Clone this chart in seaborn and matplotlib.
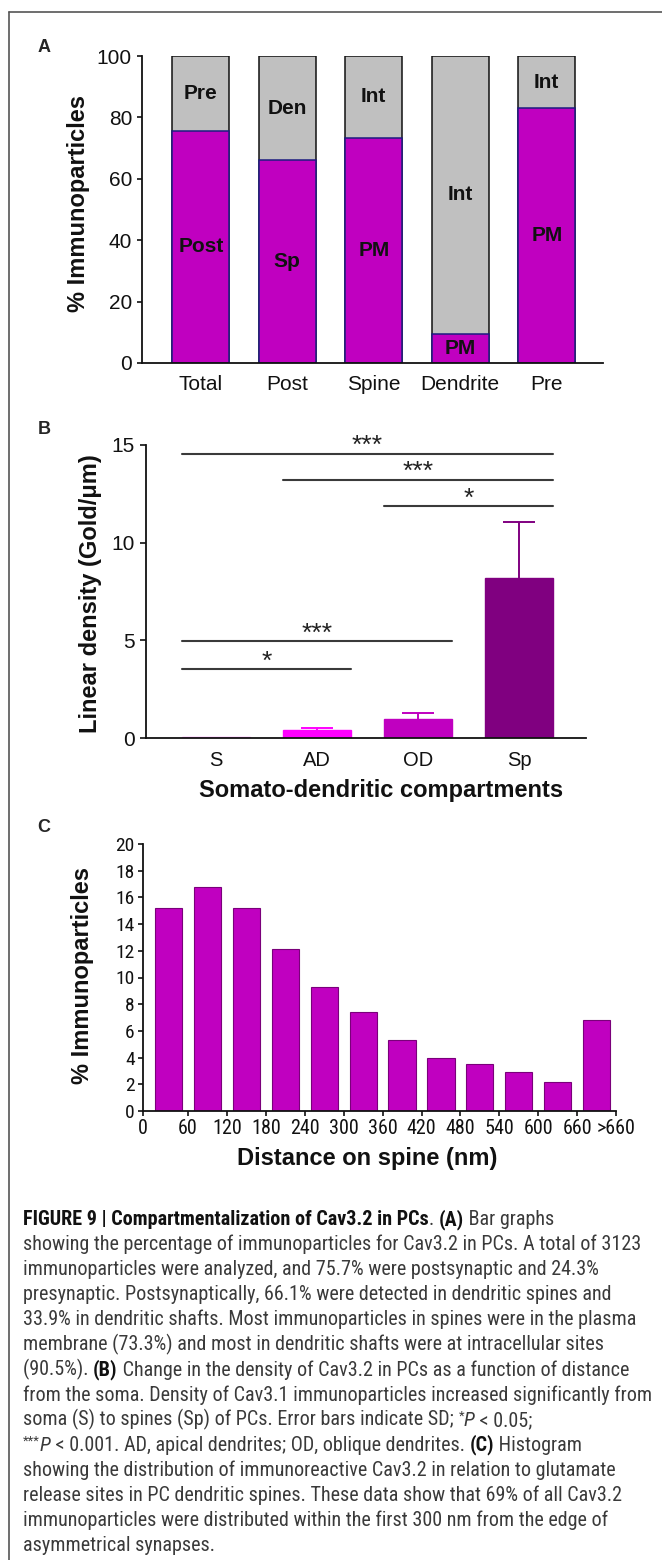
import numpy as np
import pandas as pd
import matplotlib
matplotlib.use('Agg')
import matplotlib.pyplot as plt
import seaborn as sns
from matplotlib import font_manager

# ---- data ----
# A: stacked percentages
a_groups = ['Total', 'Post', 'Spine', 'Dendrite', 'Pre']
a_lower = [75.7, 66.1, 73.3, 9.5, 83.0]
a_upper = [24.3, 33.9, 26.7, 90.5, 17.0]
a_lower_lab = ['Post', 'Sp', 'PM', 'PM', 'PM']
a_upper_lab = ['Pre', 'Den', 'Int', 'Int', 'Int']

# B: linear density, mean and SD
b_groups = ['S', 'AD', 'OD', 'Sp']
b_mean = [0.05, 0.39, 0.99, 8.2]
b_sd = [0.0, 0.12, 0.29, 2.85]
b_colors = ['#FF77FF', '#FF00FF', '#C000C0', '#800080']
b_pairs = [(0, 3, '***'), (1, 3, '***'), (2, 3, '*'), (0, 2, '***'), (0, 1, '*')]

# C: histogram of distance on spine
c_bins = ['0-60', '60-120', '120-180', '180-240', '240-300', '300-360',
          '360-420', '420-480', '480-540', '540-600', '600-660', '>660']
c_vals = [15.2, 16.8, 15.2, 12.1, 9.3, 7.4, 5.3, 4.0, 3.5, 2.9, 2.2, 6.8]
c_ticklabels = ['0', '60', '120', '180', '240', '300', '360', '420',
                '480', '540', '600', '660', '>660']

caption = [
    [('FIGURE 9 | Compartmentalization of Cav3.2 in PCs', 'b'), ('. ', 'r'), ('(A)', 'b'), (' Bar graphs', 'r')],
    [('showing the percentage of immunoparticles for Cav3.2 in PCs. A total of 3123', 'r')],
    [('immunoparticles were analyzed, and 75.7% were postsynaptic and 24.3%', 'r')],
    [('presynaptic. Postsynaptically, 66.1% were detected in dendritic spines and', 'r')],
    [('33.9% in dendritic shafts. Most immunoparticles in spines were in the plasma', 'r')],
    [('membrane (73.3%) and most in dendritic shafts were at intracellular sites', 'r')],
    [('(90.5%). ', 'r'), ('(B)', 'b'), (' Change in the density of Cav3.2 in PCs as a function of distance', 'r')],
    [('from the soma. Density of Cav3.1 immunoparticles increased significantly from', 'r')],
    [('soma (S) to spines (Sp) of PCs. Error bars indicate SD; ', 'r'), ('*', 's'), ('P', 'i'), (' < 0.05;', 'r')],
    [('***', 's'), ('P', 'i'), (' < 0.001. AD, apical dendrites; OD, oblique dendrites. ', 'r'), ('(C)', 'b'), (' Histogram', 'r')],
    [('showing the distribution of immunoreactive Cav3.2 in relation to glutamate', 'r')],
    [('release sites in PC dendritic spines. These data show that 69% of all Cav3.2', 'r')],
    [('immunoparticles were distributed within the first 300 nm from the edge of', 'r')],
    [('asymmetrical synapses.', 'r')],
]

# ---- style ----
sns.set_style('ticks')
plt.rcParams['font.family'] = ['Liberation Sans', 'DejaVu Sans']
plt.rcParams['axes.linewidth'] = 1.3
plt.rcParams['xtick.major.width'] = 1.2
plt.rcParams['ytick.major.width'] = 1.2
plt.rcParams['axes.edgecolor'] = '#111111'
plt.rcParams['xtick.color'] = '#111111'
plt.rcParams['ytick.color'] = '#111111'

# look for a narrow / condensed face for the caption and the histogram ticks
fonts = font_manager.fontManager.ttflist
names = {f.name for f in fonts}
narrow = dict(fontfamily=['Liberation Sans', 'DejaVu Sans'])
if 'Liberation Sans Narrow' in names:
    narrow = dict(fontfamily=['Liberation Sans Narrow', 'DejaVu Sans'])
elif 'Roboto Condensed' in names:
    narrow = dict(fontfamily=['Roboto Condensed', 'DejaVu Sans'])
elif any(f.name == 'DejaVu Sans' and f.stretch in ('condensed', 'semi-condensed') for f in fonts):
    narrow = dict(fontfamily=['DejaVu Sans'], fontstretch='condensed')
elif any(f.name == 'Roboto' and f.stretch in ('condensed', 'semi-condensed') for f in fonts):
    narrow = dict(fontfamily=['Roboto'], fontstretch='condensed')

W, H = 662, 1560
fig = plt.figure(figsize=(W / 100, H / 100), dpi=100)


def px_axes(l, t, r, b):
    return fig.add_axes([l / W, 1 - b / H, (r - l) / W, (b - t) / H])


def fig_text(x, y, s, **kw):
    return fig.text(x / W, 1 - y / H, s, **kw)


# frame around the figure
fig.add_artist(plt.Line2D([9 / W, 9 / W], [0, 1 - 12 / H], transform=fig.transFigure, color='#555555', lw=1.2))
fig.add_artist(plt.Line2D([9 / W, 1], [1 - 12 / H, 1 - 12 / H], transform=fig.transFigure, color='#555555', lw=1.2))

# ---- panel A ----
axA = px_axes(142, 56, 603, 363)
dfA = pd.DataFrame({'group': a_groups, 'lower': a_lower,
                    'total': np.array(a_lower) + np.array(a_upper)})
sns.barplot(data=dfA, x='group', y='total', color='#C0C0C0', saturation=1,
            edgecolor='#111111', linewidth=1.1, width=0.66, ax=axA)
sns.barplot(data=dfA, x='group', y='lower', color='#C000C0', saturation=1,
            edgecolor='#1c1c80', linewidth=1.1, width=0.66, ax=axA)
for i in range(len(a_groups)):
    axA.text(i, a_lower[i] / 2, a_lower_lab[i], ha='center', va='center',
             fontsize=15, fontweight='bold', color='#111111')
    axA.text(i, a_lower[i] + a_upper[i] / 2, a_upper_lab[i], ha='center', va='center',
             fontsize=15, fontweight='bold', color='#111111')
axA.set_xlim(-0.68, 4.65)
axA.set_ylim(0, 100)
axA.set_yticks(range(0, 101, 20))
axA.set_xlabel('')
axA.set_ylabel('')
axA.tick_params(axis='x', length=0, pad=9, labelsize=15)
axA.tick_params(axis='y', length=3.6, pad=3.6, labelsize=15)
sns.despine(ax=axA)
fig_text(78, 204, '% Immunoparticles', rotation=90, ha='center', va='center',
         fontsize=17, fontweight='bold', color='#111111')
fig_text(44, 47, 'A', ha='center', va='center', fontsize=13, fontweight='bold')

# ---- panel B ----
axB = px_axes(146, 445, 586, 738)
bw = 0.67
sns.barplot(x=b_groups, y=b_mean, hue=b_groups, palette=b_colors, legend=False,
            saturation=1, width=bw, errorbar=None, ax=axB)
for patch, col in zip(axB.patches, b_colors):
    patch.set_edgecolor(col)
    patch.set_linewidth(1.0)
for i in range(len(b_groups)):
    if b_sd[i] > 0:
        top = b_mean[i] + b_sd[i]
        axB.vlines(i, b_mean[i], top, color=b_colors[i], lw=1.4)
        axB.hlines(top, i - 0.16, i + 0.16, color=b_colors[i], lw=1.4)
sig_y = [14.56, 13.23, 11.86, 4.95, 3.53]
for (i, j, stars), y in zip(b_pairs, sig_y):
    x0, x1 = i - bw / 2, j + bw / 2
    axB.plot([x0, x1], [y, y], color='#3a3a3a', lw=1.5, clip_on=False)
    axB.text((x0 + x1) / 2, y + 0.02, stars, ha='center', va='baseline',
             fontsize=19, color='#222222')
axB.set_xlim(-0.69, 3.66)
axB.set_ylim(0, 15)
axB.set_yticks([0, 5, 10, 15])
axB.tick_params(axis='x', length=0, pad=9, labelsize=14.5)
axB.tick_params(axis='y', length=4.3, pad=3.6, labelsize=15)
sns.despine(ax=axB)
fig_text(91, 594, 'Linear density (Gold/μm)', rotation=90, ha='center', va='center',
         fontsize=17, fontweight='bold', color='#111111')
fig_text(381, 790, 'Somato-dendritic compartments', ha='center', va='center',
         fontsize=17, fontweight='bold', color='#111111')
fig_text(44, 429, 'B', ha='center', va='center', fontsize=13, fontweight='bold')

# ---- panel C ----
axC = px_axes(143, 844, 616, 1111)
sns.barplot(x=c_bins, y=c_vals, color='#C000C0', saturation=1, edgecolor='#7a007a',
            linewidth=0.8, width=0.70, errorbar=None, ax=axC)
axC.set_xlim(-0.66, 11.5)
axC.set_ylim(0, 20)
axC.set_yticks(range(0, 21, 2))
axC.set_xticks([-0.66] + [i + 0.5 for i in range(12)])
axC.set_xticklabels(c_ticklabels)
axC.tick_params(axis='x', length=3.6, pad=2.5, labelsize=14.5)
axC.tick_params(axis='y', length=3.6, pad=2.5, labelsize=14)
for lab in axC.get_xticklabels() + axC.get_yticklabels():
    lab.set_fontfamily(narrow['fontfamily'])
    if 'fontstretch' in narrow:
        lab.set_fontstretch(narrow['fontstretch'])
if 'fontstretch' not in narrow and narrow['fontfamily'][0] == 'Liberation Sans':
    axC.tick_params(axis='x', labelsize=11.8)
    axC.tick_params(axis='y', labelsize=12.5)
sns.despine(ax=axC)
fig_text(82, 975, '% Immunoparticles', rotation=90, ha='center', va='center',
         fontsize=17, fontweight='bold', color='#111111')
fig_text(367, 1159, 'Distance on spine (nm)', ha='center', va='center',
         fontsize=17, fontweight='bold', color='#111111')
fig_text(44, 828, 'C', ha='center', va='center', fontsize=13, fontweight='bold')

# ---- caption ----
renderer = fig.canvas.get_renderer()


def run_kw(kind, size):
    kw = dict(narrow, fontsize=size, va='baseline', ha='left', color='#3a3a3a')
    if kind == 'b':
        kw.update(fontweight='bold', color='#111111')
    elif kind == 'i':
        kw.update(fontstyle='italic')
    elif kind == 's':
        kw.update(fontsize=size * 0.65)
    return kw


# pick the size so the widest line just fits the text block
widest = 0
for line in caption:
    w = 0
    for text, kind in line:
        t = fig_text(0, 0, text, **run_kw(kind, 10))
        w += t.get_window_extent(renderer).width
        t.remove()
    widest = max(widest, w)
cap_size = 10 * 626 / widest

x_start, base0, step = 23, 1225, 25.1
for k, line in enumerate(caption):
    x = x_start
    y = base0 + k * step
    for text, kind in line:
        yy = y - cap_size * 0.45 if kind == 's' else y
        t = fig_text(x, yy, text, **run_kw(kind, cap_size))
        x += t.get_window_extent(renderer).width

fig.savefig('out.png', dpi=100)
